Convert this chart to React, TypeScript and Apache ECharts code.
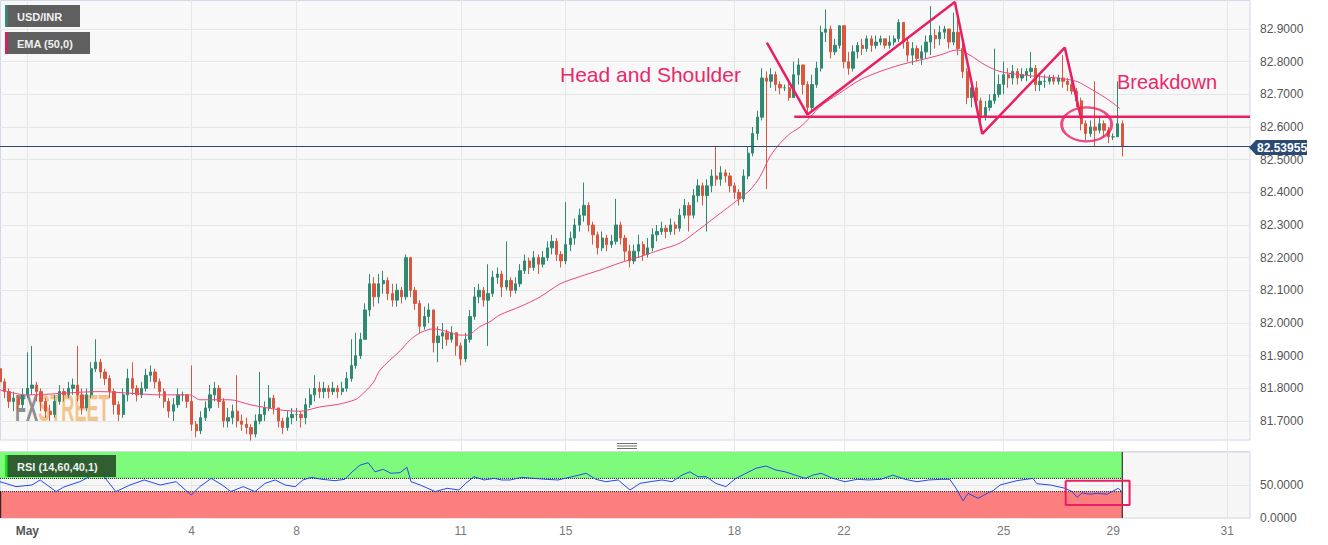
import React, { useEffect, useRef } from 'react';
import * as echarts from 'echarts';

// ---------- data (2-hour candles, USD/INR) ----------
const firstOpen = 81.86;
const closes = [
  81.82, 81.79, 81.76, 81.77, 81.75, 81.78, 81.80, 81.81, 81.79, 81.76,
  81.73, 81.72, 81.76, 81.79, 81.78, 81.80, 81.81, 81.78, 81.74, 81.78,
  81.86, 81.88, 81.85, 81.83, 81.79, 81.75, 81.72, 81.78, 81.83, 81.80,
  81.78, 81.80, 81.84, 81.85, 81.82, 81.79, 81.76, 81.73, 81.75, 81.78,
  81.78, 81.76, 81.69, 81.67, 81.71, 81.74, 81.78, 81.80, 81.76, 81.70,
  81.71, 81.73, 81.70, 81.69, 81.68, 81.66, 81.70, 81.72, 81.74, 81.77,
  81.74, 81.70, 81.68, 81.71, 81.72, 81.72, 81.71, 81.75, 81.78, 81.80,
  81.79, 81.80, 81.79, 81.80, 81.79, 81.80, 81.83, 81.87, 81.90, 81.95,
  82.04, 82.12, 82.08, 82.12, 82.13, 82.09, 82.07, 82.10, 82.08, 82.20,
  82.10, 82.06, 81.99, 82.02, 82.04, 81.94, 81.96, 81.97, 81.95, 81.97,
  81.93, 81.89, 81.95, 82.02, 82.08, 82.10, 82.07, 82.09, 82.14, 82.15,
  82.11, 82.13, 82.10, 82.12, 82.16, 82.19, 82.17, 82.20, 82.18, 82.20,
  82.23, 82.25, 82.21, 82.19, 82.24, 82.26, 82.30, 82.33, 82.36, 82.30,
  82.27, 82.23, 82.26, 82.24, 82.25, 82.30, 82.26, 82.22, 82.19, 82.22,
  82.24, 82.21, 82.23, 82.27, 82.28, 82.29, 82.28, 82.30, 82.29, 82.33,
  82.36, 82.33, 82.39, 82.42, 82.39, 82.42, 82.45, 82.44, 82.46, 82.45,
  82.42, 82.40, 82.38, 82.45, 82.52, 82.58, 82.63, 82.75, 82.74, 82.76,
  82.73, 82.72, 82.72, 82.69, 82.76, 82.79, 82.73, 82.66, 82.73, 82.78,
  82.89, 82.90, 82.83, 82.85, 82.91, 82.80, 82.78, 82.83, 82.85, 82.84,
  82.87, 82.85, 82.86, 82.87, 82.85, 82.86, 82.87, 82.92, 82.86, 82.82,
  82.84, 82.81, 82.83, 82.86, 82.88, 82.87, 82.89, 82.90, 82.86, 82.89,
  82.84, 82.77, 82.69, 82.72, 82.68, 82.63, 82.66, 82.68, 82.70, 82.73,
  82.76, 82.75, 82.77, 82.75, 82.76, 82.77, 82.78, 82.73, 82.74, 82.74,
  82.75, 82.74, 82.75, 82.74, 82.73, 82.71, 82.68, 82.61, 82.58, 82.60,
  82.59, 82.61, 82.59, 82.57, 82.57, 82.61, 82.5396,
];
const highs = [
  81.88, 81.83, 81.80, 81.79, 81.78, 81.80, 81.91, 81.93, 81.82, 81.80,
  81.77, 81.75, 81.78, 81.81, 81.80, 81.82, 81.83, 81.93, 81.80, 81.80,
  81.88, 81.95, 81.89, 81.86, 81.84, 81.80, 81.76, 81.80, 81.86, 81.88,
  81.81, 81.82, 81.86, 81.87, 81.86, 81.83, 81.80, 81.77, 81.77, 81.80,
  81.79, 81.78, 81.87, 81.70, 81.73, 81.76, 81.81, 81.82, 81.81, 81.77,
  81.74, 81.75, 81.84, 81.72, 81.71, 81.69, 81.72, 81.85, 81.76, 81.81,
  81.78, 81.74, 81.71, 81.73, 81.74, 81.74, 81.73, 81.77, 81.80, 81.84,
  81.82, 81.82, 81.81, 81.82, 81.81, 81.82, 81.85, 81.95, 81.97, 81.97,
  82.06, 82.15, 82.14, 82.15, 82.16, 82.14, 82.12, 82.12, 82.11, 82.21,
  82.20, 82.11, 82.07, 82.05, 82.06, 82.04, 81.99, 82.00, 81.98, 81.99,
  81.97, 81.94, 81.97, 82.04, 82.11, 82.12, 82.11, 82.18, 82.16, 82.17,
  82.16, 82.25, 82.14, 82.14, 82.18, 82.21, 82.20, 82.22, 82.21, 82.22,
  82.25, 82.27, 82.26, 82.22, 82.37, 82.28, 82.32, 82.35, 82.43, 82.37,
  82.31, 82.28, 82.28, 82.27, 82.27, 82.38, 82.31, 82.27, 82.24, 82.24,
  82.27, 82.25, 82.26, 82.29, 82.30, 82.31, 82.30, 82.32, 82.31, 82.35,
  82.38, 82.37, 82.41, 82.44, 82.43, 82.44, 82.47, 82.54, 82.48, 82.47,
  82.46, 82.43, 82.41, 82.47, 82.54, 82.60, 82.65, 82.78, 82.77, 82.78,
  82.77, 82.74, 82.73, 82.74, 82.80, 82.81, 82.79, 82.74, 82.76, 82.80,
  82.91, 82.96, 82.91, 82.87, 82.91, 82.91, 82.83, 82.85, 82.86, 82.87,
  82.88, 82.88, 82.88, 82.88, 82.87, 82.88, 82.88, 82.93, 82.92, 82.87,
  82.86, 82.85, 82.85, 82.88, 82.97, 82.90, 82.91, 82.91, 82.90, 82.95,
  82.95, 82.86, 82.78, 82.75, 82.74, 82.69, 82.68, 82.70, 82.84, 82.76,
  82.80, 82.78, 82.79, 82.78, 82.78, 82.78, 82.83, 82.79, 82.76, 82.76,
  82.76, 82.76, 82.76, 82.82, 82.75, 82.74, 82.72, 82.69, 82.62, 82.62,
  82.74, 82.63, 82.62, 82.60, 82.58, 82.74, 82.62,
];
const lows = [
  81.80, 81.77, 81.74, 81.73, 81.73, 81.74, 81.77, 81.78, 81.76, 81.73,
  81.71, 81.70, 81.71, 81.75, 81.76, 81.77, 81.78, 81.76, 81.72, 81.73,
  81.77, 81.85, 81.83, 81.81, 81.77, 81.72, 81.70, 81.71, 81.76, 81.78,
  81.76, 81.77, 81.79, 81.82, 81.80, 81.77, 81.74, 81.71, 81.70, 81.74,
  81.76, 81.74, 81.67, 81.65, 81.66, 81.70, 81.73, 81.76, 81.74, 81.68,
  81.68, 81.69, 81.68, 81.67, 81.66, 81.64, 81.65, 81.69, 81.70, 81.73,
  81.72, 81.68, 81.66, 81.67, 81.69, 81.70, 81.68, 81.69, 81.74, 81.76,
  81.77, 81.77, 81.77, 81.78, 81.77, 81.78, 81.79, 81.82, 81.86, 81.89,
  81.95, 82.02, 82.05, 82.06, 82.09, 82.07, 82.05, 82.05, 82.06, 82.07,
  82.08, 82.04, 81.97, 81.98, 82.00, 81.91, 81.88, 81.92, 81.93, 81.94,
  81.90, 81.87, 81.88, 81.94, 82.01, 82.06, 82.05, 81.93, 82.08, 82.12,
  82.08, 82.10, 82.08, 82.09, 82.11, 82.15, 82.15, 82.16, 82.15, 82.17,
  82.19, 82.21, 82.19, 82.17, 82.18, 82.22, 82.24, 82.28, 82.31, 82.28,
  82.24, 82.21, 82.22, 82.22, 82.23, 82.24, 82.24, 82.19, 82.17, 82.18,
  82.20, 82.19, 82.20, 82.22, 82.25, 82.27, 82.26, 82.27, 82.27, 82.28,
  82.32, 82.28, 82.32, 82.37, 82.36, 82.28, 82.40, 82.42, 82.42, 82.43,
  82.40, 82.38, 82.36, 82.37, 82.44, 82.51, 82.56, 82.62, 82.41, 82.72,
  82.71, 82.70, 82.71, 82.68, 82.69, 82.73, 82.70, 82.64, 82.65, 82.72,
  82.77, 82.86, 82.81, 82.82, 82.84, 82.78, 82.76, 82.77, 82.81, 82.82,
  82.83, 82.83, 82.84, 82.85, 82.84, 82.84, 82.85, 82.86, 82.84, 82.80,
  82.79, 82.80, 82.79, 82.81, 82.82, 82.84, 82.85, 82.87, 82.84, 82.85,
  82.82, 82.75, 82.67, 82.66, 82.66, 82.61, 82.62, 82.65, 82.67, 82.69,
  82.70, 82.72, 82.73, 82.73, 82.74, 82.74, 82.75, 82.71, 82.71, 82.72,
  82.73, 82.73, 82.73, 82.72, 82.71, 82.70, 82.66, 82.59, 82.56, 82.57,
  82.54, 82.58, 82.57, 82.55, 82.56, 82.57, 82.51,
];
const totalSlots = 275;
const tickLabels = ['May', '4', '8', '11', '15', '18', '22', '25', '29', '31'];
const tickSlots = [6, 42, 65, 101, 124, 161, 185, 220, 244, 269];

const emaPoints = [
  [0, 81.795], [5.9, 81.78], [21.9, 81.79], [28.5, 81.785], [35.1, 81.78], [41.6, 81.78],
  [43.8, 81.765], [50.4, 81.765], [54.8, 81.75], [61.4, 81.734], [65.8, 81.73], [70.1, 81.743],
  [74.5, 81.752], [77.8, 81.765], [78.9, 81.775], [81.8, 81.817], [83.3, 81.856], [87.7, 81.915],
  [89.9, 81.948], [92.1, 81.97], [94.9, 81.982], [98, 81.974], [100.8, 81.963], [102.4, 81.963],
  [105.2, 81.989], [107.4, 82.004], [109.6, 82.025], [114, 82.05], [118.4, 82.08], [122.8, 82.12],
  [127.1, 82.142], [131.5, 82.162], [135.9, 82.184], [140.3, 82.203], [144.7, 82.224], [149.1, 82.245],
  [153.4, 82.288], [157.8, 82.335], [161.1, 82.37], [164.4, 82.407], [166.6, 82.448], [168.8, 82.51],
  [171, 82.55], [173.2, 82.58], [175.4, 82.6], [177.6, 82.63], [179.7, 82.662], [184.1, 82.704],
  [188.5, 82.744], [192.9, 82.77], [197.3, 82.79], [201.7, 82.805], [206, 82.82], [209.8, 82.836],
  [212.6, 82.82], [215.9, 82.79], [219.2, 82.77], [223.6, 82.76], [228, 82.754], [232.4, 82.749],
  [236.1, 82.739], [238.9, 82.718], [241.1, 82.7], [243.3, 82.68], [245.5, 82.656],
];

const rsiPoints = [
  [0, 55], [3.5, 47.5], [7, 50], [8.8, 57.6], [12.3, 40], [14, 47], [17.5, 55], [21, 67.7],
  [22.8, 62.6], [25.4, 40], [28.5, 50], [31.6, 57.6], [35.1, 50], [38.6, 55], [41.9, 34.8],
  [43.8, 47.5], [46.3, 60], [48.7, 50], [50.6, 40], [53.3, 47.5], [55.9, 40], [58.1, 52.5],
  [60.3, 57.6], [62.5, 50], [64.7, 47.5], [66.4, 57.6], [68.2, 61.6], [70.6, 58.6], [73.4, 56.6],
  [75.6, 58.6], [77.2, 70], [78.9, 80], [80.7, 83.8], [82.2, 70], [84, 73.7], [85.7, 67.7],
  [87.7, 68.7], [89.2, 76.8], [90.1, 55], [92.1, 50], [95.4, 40], [98, 45], [100.6, 42.4],
  [102.1, 52.5], [103.9, 62.6], [106.1, 57.6], [108.3, 60], [110, 57.6], [111.8, 57.6],
  [114.4, 61.6], [117.1, 60], [119.7, 58.6], [122.3, 57.6], [125.4, 62.6], [128.5, 67.7],
  [130.6, 58.6], [132.8, 55], [135.5, 57.6], [138.1, 42.4], [140.3, 52.5], [142.5, 55],
  [145.1, 57.6], [147.3, 55], [149.5, 65], [151.2, 70], [153, 62.6], [154.8, 62.6], [156.9, 52.5],
  [159.1, 47.5], [161.3, 60], [163.5, 67.7], [165.7, 75.3], [167.9, 78.8], [170.1, 72.7],
  [172.1, 70], [174.3, 65], [176.5, 60], [178.2, 65], [180, 67.7], [182.6, 60], [185.2, 55],
  [187.9, 58.6], [190.5, 57.6], [193.1, 58.6], [195.7, 65], [198.4, 58.6], [201, 55],
  [203.6, 57.6], [206.3, 58.6], [208.2, 58.6], [209.8, 42.4], [211.1, 25.8], [212.2, 37.4],
  [214.4, 29.8], [216.4, 37.4], [217.7, 41.4], [219.2, 50], [222.9, 56.6], [226.4, 60],
  [227.3, 52], [230.2, 50], [233.5, 45], [235, 40], [236.1, 31.3], [237.2, 38], [238.9, 36],
  [240.5, 37.4], [242.7, 36], [245.1, 45], [245.9, 40],
];

const patternPoints = [
  [168.1, 82.858], [177.0, 82.638], [209.3, 82.983], [215.3, 82.579], [233.4, 82.843], [237.0, 82.6245],
];
const necklinePoints = [[174.1, 82.6315], [274, 82.6315]];
const circleCenter = [238.2, 82.608];
const rsiBoxPoints = [[233.6, 56.5], [247.6, 56.5], [247.6, 19.7], [233.6, 19.7], [233.6, 56.5]];
const rsiUpper = 60;
const rsiLower = 40;
const rsiEndSlot = 246;
const lastPrice = 82.53955;

// ---------- styles ----------
const FONT = '"Liberation Sans", Arial, sans-serif';
const UP = '#2e8a70';
const DOWN = '#d9573e';
const PINK = '#e91e63';
const GRIDC = '#e6e6e6';

const categories = Array.from({ length: totalSlots }, (_, i) => {
  const k = tickSlots.indexOf(i);
  return k >= 0 ? tickLabels[k] : '_' + i;
});
const tickSet = new Set(tickSlots);
const isTick = (i: number) => tickSet.has(i);

const candles = closes.map((c, i) => {
  const o = i === 0 ? firstOpen : closes[i - 1];
  const l = Math.min(lows[i], o, c);
  const h = Math.max(highs[i], o, c);
  return [o, c, l, h];
});

function buildGraphic(py: number) {
  return [
    { type: 'rect', z: -10, silent: true, shape: { x: 0.5, y: 0.5, width: 1249.5, height: 439.5 }, style: { fill: '#f8f8f8', stroke: '#d5d8e6', lineWidth: 1 } },
    { type: 'rect', z: -10, silent: true, shape: { x: 0.5, y: 451.5, width: 1249.5, height: 66.5 }, style: { fill: '#f6f6f6', stroke: '#d5d8e6', lineWidth: 1 } },
    // resize handle
    { type: 'line', silent: true, shape: { x1: 617, y1: 443.5, x2: 637, y2: 443.5 }, style: { stroke: '#707070', lineWidth: 1 } },
    { type: 'line', silent: true, shape: { x1: 617, y1: 446, x2: 637, y2: 446 }, style: { stroke: '#707070', lineWidth: 1 } },
    { type: 'line', silent: true, shape: { x1: 617, y1: 448.5, x2: 637, y2: 448.5 }, style: { stroke: '#707070', lineWidth: 1 } },
    // watermark
    {
      type: 'text', z: 1, silent: true, x: 15, y: 408, scaleX: 0.49,
      style: {
        text: '{a|FX}{b|STREET}', verticalAlign: 'middle', textVerticalAlign: 'middle',
        rich: {
          a: { fill: '#8e8e8e', color: '#8e8e8e', font: 'bold 37px ' + FONT },
          b: { fill: '#f2c48c', color: '#f2c48c', font: 'bold 37px ' + FONT },
        },
      },
    },
    // legend boxes
    { type: 'rect', z: 100, silent: true, shape: { x: 5, y: 5, width: 75, height: 22 }, style: { fill: '#5f5f5f' } },
    { type: 'rect', z: 101, silent: true, shape: { x: 5, y: 5, width: 2.5, height: 22 }, style: { fill: '#2f8f77' } },
    { type: 'text', z: 102, silent: true, x: 17, y: 16.5, style: { text: 'USD/INR', fill: '#f0f0f0', font: 'bold 11px ' + FONT, verticalAlign: 'middle', textVerticalAlign: 'middle' } },
    { type: 'rect', z: 100, silent: true, shape: { x: 5, y: 32, width: 85, height: 22 }, style: { fill: '#5f5f5f' } },
    { type: 'rect', z: 101, silent: true, shape: { x: 5, y: 32, width: 2.5, height: 22 }, style: { fill: '#e3185d' } },
    { type: 'text', z: 102, silent: true, x: 17, y: 43.5, style: { text: 'EMA (50,0)', fill: '#f0f0f0', font: 'bold 11px ' + FONT, verticalAlign: 'middle', textVerticalAlign: 'middle' } },
    // RSI label box
    { type: 'rect', z: 100, silent: true, shape: { x: 5, y: 455, width: 111, height: 22 }, style: { fill: '#2f5f31' } },
    { type: 'rect', z: 101, silent: true, shape: { x: 5, y: 455, width: 2.5, height: 22 }, style: { fill: '#19e619' } },
    { type: 'text', z: 102, silent: true, x: 17, y: 466.5, style: { text: 'RSI (14,60,40,1)', fill: '#f0f0f0', font: 'bold 11px ' + FONT, verticalAlign: 'middle', textVerticalAlign: 'middle' } },
    // annotation texts
    { type: 'text', z: 50, silent: true, x: 560, y: 74, style: { text: 'Head and Shoulder', fill: '#e8296a', font: '21px ' + FONT, verticalAlign: 'middle', textVerticalAlign: 'middle' } },
    { type: 'text', z: 50, silent: true, x: 1117, y: 82, style: { text: 'Breakdown', fill: '#e8296a', font: '20px ' + FONT, verticalAlign: 'middle', textVerticalAlign: 'middle' } },
    // price tag
    {
      type: 'polygon', z: 100, silent: true,
      shape: { points: [[1249, py], [1256, py - 7.5], [1307, py - 7.5], [1307, py + 7.5], [1256, py + 7.5]] },
      style: { fill: '#2a4a72' },
    },
    { type: 'text', z: 101, silent: true, x: 1257, y: py + 0.5, style: { text: lastPrice.toFixed(5), fill: '#ffffff', font: 'bold 12px ' + FONT, verticalAlign: 'middle', textVerticalAlign: 'middle' } },
  ];
}

export default function App() {
  const ref = useRef<HTMLDivElement>(null);
  useEffect(() => {
    if (!ref.current) return;
    const chart = echarts.init(ref.current, undefined, { renderer: 'svg' });
    const option: any = {
      animation: false,
      backgroundColor: '#ffffff',
      textStyle: { fontFamily: FONT },
      grid: [
        { left: 0, right: 78, top: -3.667, height: 457.333, containLabel: false, outerBoundsMode: 'none' },
        { left: 0, right: 78, top: 452, height: 66, containLabel: false, outerBoundsMode: 'none' },
      ],
      xAxis: [
        {
          type: 'category', gridIndex: 0, data: categories, boundaryGap: false,
          axisLine: { show: false }, axisTick: { show: false }, axisLabel: { show: false },
          splitLine: { show: true, interval: isTick, lineStyle: { color: GRIDC, width: 1 } },
        },
        { type: 'value', gridIndex: 0, min: 0, max: totalSlots - 1, show: false },
        {
          type: 'category', gridIndex: 1, data: categories, boundaryGap: false,
          axisLine: { show: false }, axisTick: { show: false },
          axisLabel: {
            show: true, interval: isTick, margin: 7,
            formatter: (v: string) => (v.startsWith('_') ? '' : v === 'May' ? '{b|May}' : '{n|' + v + '}'),
            rich: {
              b: { fontFamily: FONT, fontSize: 12, fontWeight: 'bold', color: '#555555' },
              n: { fontFamily: FONT, fontSize: 12, color: '#777777' },
            },
          },
          splitLine: { show: true, interval: isTick, lineStyle: { color: GRIDC, width: 1 } },
        },
        { type: 'value', gridIndex: 1, min: 0, max: totalSlots - 1, show: false },
      ],
      yAxis: [
        {
          type: 'value', gridIndex: 0, position: 'right', min: 81.6, max: 83.0, interval: 0.1,
          axisLine: { show: false }, axisTick: { show: false },
          axisLabel: {
            margin: 10, color: '#555555', fontSize: 12, fontFamily: FONT,
            showMinLabel: false, showMaxLabel: false,
            formatter: (v: number) => v.toFixed(4),
          },
          splitLine: { show: true, showMinLine: false, showMaxLine: false, lineStyle: { color: GRIDC, width: 1 } },
        },
        {
          type: 'value', gridIndex: 1, position: 'right', min: 0, max: 100, interval: 50,
          axisLine: { show: false }, axisTick: { show: false },
          axisLabel: {
            margin: 10, color: '#555555', fontSize: 12, fontFamily: FONT,
            showMaxLabel: false, formatter: (v: number) => v.toFixed(4),
          },
          splitLine: { show: true, lineStyle: { color: GRIDC, width: 1 } },
        },
      ],
      series: [
        {
          type: 'candlestick', xAxisIndex: 0, yAxisIndex: 0, data: candles, barWidth: 2.8, z: 3,
          itemStyle: { color: UP, color0: DOWN, borderColor: UP, borderColor0: DOWN, borderWidth: 1 },
          markLine: {
            silent: true, symbol: ['none', 'none'], label: { show: false },
            lineStyle: { color: '#2a4a72', width: 1, type: 'solid' },
            data: [{ yAxis: lastPrice }],
          },
        },
        {
          type: 'line', xAxisIndex: 1, yAxisIndex: 0, data: emaPoints, smooth: 0.3, symbol: 'none', z: 4,
          lineStyle: { color: '#f0457f', width: 1 }, silent: true,
        },
        {
          type: 'line', xAxisIndex: 1, yAxisIndex: 0, data: patternPoints, symbol: 'none', z: 6,
          lineStyle: { color: PINK, width: 2.5 }, silent: true,
        },
        {
          type: 'line', xAxisIndex: 1, yAxisIndex: 0, data: necklinePoints, symbol: 'none', z: 6,
          lineStyle: { color: PINK, width: 2.5 }, silent: true,
        },
        {
          type: 'scatter', xAxisIndex: 1, yAxisIndex: 0, data: [circleCenter], symbol: 'circle',
          symbolSize: [50, 34], z: 6, silent: true,
          itemStyle: { color: 'rgba(0,0,0,0)', borderColor: PINK, borderWidth: 2.5 },
        },
        // RSI zones
        {
          type: 'line', xAxisIndex: 3, yAxisIndex: 1, data: [], z: 1, silent: true,
          markArea: {
            silent: true,
            data: [
              [{ coord: [0, rsiUpper], itemStyle: { color: '#7ffb7c' } }, { coord: [rsiEndSlot, 100] }],
              [{ coord: [0, 0], itemStyle: { color: '#fb7f7e' } }, { coord: [rsiEndSlot, rsiLower] }],
            ],
          },
        },
        {
          type: 'line', xAxisIndex: 3, yAxisIndex: 1, data: [[0, rsiUpper], [rsiEndSlot, rsiUpper]], symbol: 'none', z: 2,
          lineStyle: { color: '#222222', width: 1, type: [1, 1] }, silent: true,
        },
        {
          type: 'line', xAxisIndex: 3, yAxisIndex: 1, data: [[0, rsiLower], [rsiEndSlot, rsiLower]], symbol: 'none', z: 2,
          lineStyle: { color: '#222222', width: 1, type: [1, 1] }, silent: true,
        },
        {
          type: 'line', xAxisIndex: 3, yAxisIndex: 1, data: [[rsiEndSlot, 0], [rsiEndSlot, 100]], symbol: 'none', z: 2,
          lineStyle: { color: '#111111', width: 1 }, silent: true,
        },
        {
          type: 'line', xAxisIndex: 3, yAxisIndex: 1, data: [[0.15, 0], [0.15, rsiLower]], symbol: 'none', z: 2,
          lineStyle: { color: '#111111', width: 1 }, silent: true,
        },
        {
          type: 'line', xAxisIndex: 3, yAxisIndex: 1, data: rsiPoints, symbol: 'none', z: 3,
          lineStyle: { color: '#2448ee', width: 1 }, silent: true,
        },
        {
          type: 'line', xAxisIndex: 3, yAxisIndex: 1, data: rsiBoxPoints, symbol: 'none', z: 5,
          lineStyle: { color: PINK, width: 2 }, silent: true,
        },
      ],
    };
    chart.setOption(option);
    const py = chart.convertToPixel({ yAxisIndex: 0 } as any, lastPrice) as number;
    chart.setOption({ graphic: buildGraphic(Math.round(py) + 0.5) });
    return () => chart.dispose();
  }, []);
  return (
    <div
      ref={ref}
      style={{ position: 'fixed', left: 0, top: 0, width: 1328, height: 545, background: '#ffffff' }}
    />
  );
}
